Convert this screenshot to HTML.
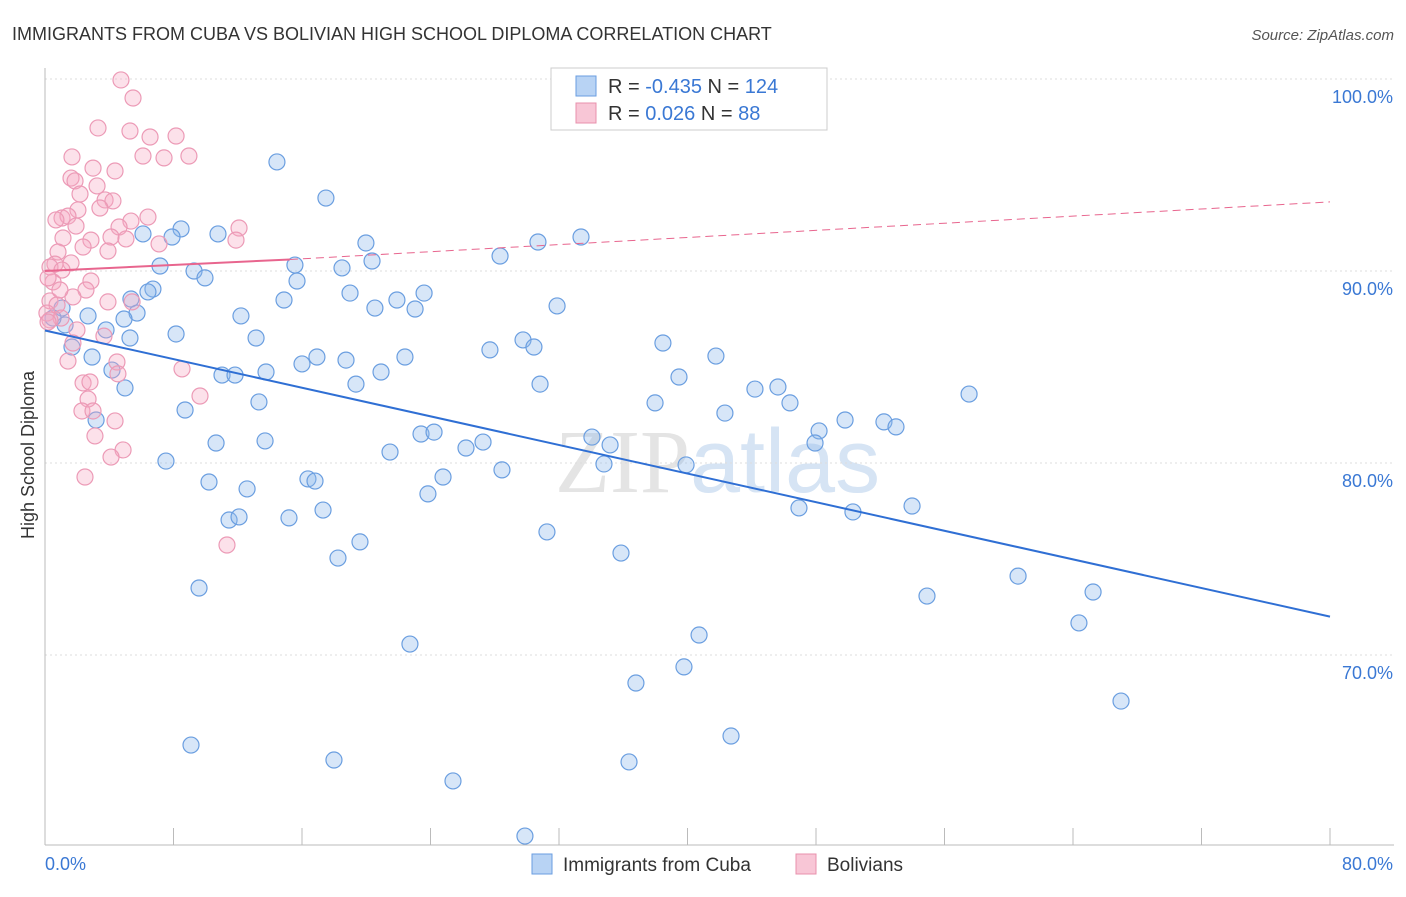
<!DOCTYPE html>
<html><head><meta charset="utf-8"><style>
body{margin:0;background:#fff;font-family:"Liberation Sans",sans-serif}
</style></head><body>
<svg width="1406" height="892" xmlns="http://www.w3.org/2000/svg" font-family="Liberation Sans, sans-serif" id="chart">
<text x="12" y="40" font-size="18" fill="#333">IMMIGRANTS FROM CUBA VS BOLIVIAN HIGH SCHOOL DIPLOMA CORRELATION CHART</text>
<text x="1394" y="40" font-size="15" fill="#555" text-anchor="end" font-style="italic">Source: ZipAtlas.com</text>
<text x="555" y="492" font-size="90" fill="#e4e4e4" font-family="Liberation Serif, serif">ZIP<tspan fill="#d6e4f4" font-family="Liberation Sans, sans-serif">atlas</tspan></text>
<g id="grid"></g>
<line x1="45" y1="845" x2="1394" y2="845" stroke="#bbb"/>
<line x1="45" y1="68" x2="45" y2="845" stroke="#bbb"/>
<g id="xticks"></g>
<text transform="translate(34,455) rotate(-90)" font-size="18" fill="#333" text-anchor="middle">High School Diploma</text>
<text x="45" y="870" font-size="18" fill="#3a78d4">0.0%</text>
<text x="1393" y="870" font-size="18" fill="#3a78d4" text-anchor="end">80.0%</text>
<g id="pts"></g>
<g id="lines"></g>
<g>
<rect x="551" y="68" width="276" height="62" fill="#fff" stroke="#ccc"/>
<rect x="576" y="76" width="20" height="20" fill="#b8d3f4" stroke="#6a9ee0"/>
<rect x="576" y="103" width="20" height="20" fill="#f8c6d6" stroke="#e890ac"/>
<text x="608" y="93" font-size="20" fill="#333">R = <tspan fill="#3a78d4">-0.435</tspan>   N = <tspan fill="#3a78d4">124</tspan></text>
<text x="608" y="120" font-size="20" fill="#333">R =  <tspan fill="#3a78d4">0.026</tspan>   N =  <tspan fill="#3a78d4"> 88</tspan></text>
</g>
<g><rect x="532" y="854" width="20" height="20" fill="#b8d3f4" stroke="#6a9ee0"/><text x="563" y="871" font-size="19" fill="#333">Immigrants from Cuba</text></g>
<g><rect x="796" y="854" width="20" height="20" fill="#f8c6d6" stroke="#e890ac"/><text x="827" y="871" font-size="19" fill="#333">Bolivians</text></g>
</svg>
<script>
const yTicks=[100,90,80,70];
const xTickVals=[0,8,16,24,32,40,48,56,64,72,80];
const bluePx=[[277,162],[326,198],[181,229],[143,234],[172,237],[218,234],[366,243],[538,242],[581,237],[372,261],[500,256],[160,266],[194,271],[205,278],[295,265],[342,268],[297,281],[153,289],[148,292],[131,299],[137,313],[124,319],[284,300],[350,293],[375,308],[397,300],[415,309],[424,293],[557,306],[241,316],[176,334],[256,338],[106,330],[130,338],[88,316],[65,325],[62,308],[53,318],[72,347],[92,357],[112,370],[125,388],[96,420],[222,375],[235,375],[266,372],[302,364],[317,357],[346,360],[356,384],[381,372],[405,357],[490,350],[523,340],[534,347],[540,384],[663,343],[716,356],[679,377],[655,403],[725,413],[755,389],[778,387],[790,403],[819,431],[815,443],[845,420],[884,422],[896,427],[969,394],[259,402],[185,410],[216,443],[265,441],[166,461],[209,482],[247,489],[308,479],[315,481],[323,510],[229,520],[239,517],[289,518],[360,542],[338,558],[390,452],[421,434],[434,432],[466,448],[483,442],[443,477],[428,494],[502,470],[592,437],[610,445],[604,464],[686,465],[799,508],[853,512],[912,506],[547,532],[621,553],[199,588],[410,644],[699,635],[636,683],[684,667],[927,596],[1018,576],[1093,592],[1079,623],[1121,701],[191,745],[334,760],[453,781],[629,762],[731,736],[525,836]];
const pinkPx=[[121,80],[133,98],[98,128],[130,131],[150,137],[176,136],[72,157],[143,156],[164,158],[189,156],[93,168],[115,171],[71,178],[75,181],[97,186],[80,194],[105,200],[113,201],[100,208],[78,210],[62,218],[68,216],[56,220],[148,217],[131,221],[76,226],[119,227],[239,228],[63,238],[91,240],[111,237],[126,239],[236,240],[83,247],[58,252],[108,251],[159,244],[55,264],[71,263],[50,267],[62,270],[53,282],[91,281],[86,290],[48,278],[73,297],[50,301],[57,305],[108,302],[132,302],[47,313],[61,318],[77,330],[104,336],[73,343],[117,362],[68,361],[118,374],[182,369],[83,383],[90,382],[200,396],[88,399],[82,411],[93,411],[115,421],[95,436],[123,450],[111,457],[85,477],[227,545],[50,320],[48,322],[60,290]];
// convert to data values (x %, y %)
const cubaX=bluePx.map(p=>+((p[0]-45)/1285*80).toFixed(2));
const cubaY=bluePx.map(p=>+(100-(p[1]-79)/19.2).toFixed(2));
const bolX=pinkPx.map(p=>+((p[0]-45)/1285*80).toFixed(2));
const bolY=pinkPx.map(p=>+(100-(p[1]-79)/19.2).toFixed(2));
const cubaTrend=[[0,86.9],[80,72.0]];
const bolTrend=[[0,90.0],[15.25,90.6],[80,93.6]];
const sx=v=>45+v/80*1285, sy=v=>79+(100-v)*19.2;
const NS="http://www.w3.org/2000/svg";
function mk(t,a,parent){const e=document.createElementNS(NS,t);for(const k in a)e.setAttribute(k,a[k]);document.getElementById(parent).appendChild(e);return e;}
yTicks.forEach(v=>{
 const l=mk('line',{x1:45,x2:1394,y1:sy(v),y2:sy(v),stroke:'#ddd','stroke-dasharray':'2,3'},'grid');
 
 
 const t=mk('text',{x:1393,y:sy(v)+24,'font-size':18,fill:'#3a78d4','text-anchor':'end'},'grid');
 t.textContent=v.toFixed(1)+'%';
 
 
});
xTickVals.forEach(v=>{
 const l=mk('line',{x1:sx(v),x2:sx(v),y1:828,y2:845,stroke:'#bbb'},'xticks');
 
 
});
cubaX.forEach((x,i)=>{
 const c=mk('circle',{cx:sx(x),cy:sy(cubaY[i]),r:8,fill:'rgba(140,182,236,0.35)',stroke:'#6a9ee0','stroke-width':1.2},'pts');
 
 
});
bolX.forEach((x,i)=>{
 const c=mk('circle',{cx:sx(x),cy:sy(bolY[i]),r:8,fill:'rgba(246,170,196,0.35)',stroke:'#ec9ab6','stroke-width':1.2},'pts');
 
 
});
let l=mk('line',{x1:sx(cubaTrend[0][0]),y1:sy(cubaTrend[0][1]),x2:sx(cubaTrend[1][0]),y2:sy(cubaTrend[1][1]),stroke:'#2f6fd4','stroke-width':2},'lines');


l=mk('line',{x1:sx(bolTrend[0][0]),y1:sy(bolTrend[0][1]),x2:sx(bolTrend[1][0]),y2:sy(bolTrend[1][1]),stroke:'#e8658e','stroke-width':2},'lines');


l=mk('line',{x1:sx(bolTrend[1][0]),y1:sy(bolTrend[1][1]),x2:sx(bolTrend[2][0]),y2:sy(bolTrend[2][1]),stroke:'#e8658e','stroke-width':1,'stroke-dasharray':'8,5'},'lines');


</script>
</body></html>
